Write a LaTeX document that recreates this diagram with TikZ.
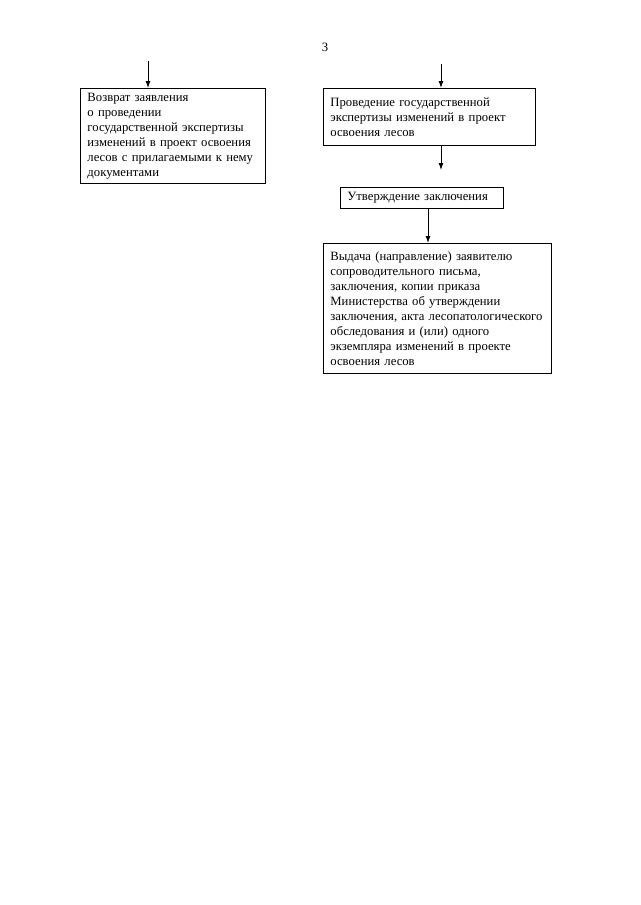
\documentclass[tikz,border=0pt]{standalone}
\usepackage{fontspec}
\setmainfont{Liberation Serif}
\usetikzlibrary{arrows.meta,positioning}

\begin{document}
\begin{tikzpicture}[
  x=1pt,y=-1pt,
  font=\fontsize{12.7}{15}\selectfont,
  box/.style={rectangle,draw,line width=0.9pt,align=left,anchor=north west,inner xsep=7pt,inner ysep=3pt},
  >={Latex[length=7pt,width=5pt]}
]
\useasboundingbox (0,0) rectangle (640,905);
\node (pagenum) at (325,47) {3};
% left branch
\node[box,text width=171pt,minimum height=95pt] (ret) at (80,88)
  {Возврат заявления\\о проведении\\государственной экспертизы\\изменений в проект освоения\\лесов с прилагаемыми к нему\\документами};
\coordinate (retin) at (148,61);
% right branch
\node[box,text width=198pt,minimum height=57pt] (exp) at (323,88)
  {Проведение государственной\\экспертизы изменений в проект\\освоения лесов};
\coordinate (expin) at (441,64);
\node[box,text width=149pt,minimum height=21pt,inner ysep=2pt] (appr) at (340,187)
  {Утверждение заключения};
\coordinate (apprin) at (441,170);
\node[box,text width=214pt,minimum height=130pt] (issue) at (323,243)
  {Выдача (направление) заявителю\\сопроводительного письма,\\заключения, копии приказа\\Министерства об утверждении\\заключения, акта лесопатологического\\обследования и (или) одного\\экземпляра изменений в проекте\\освоения лесов};
\coordinate (issuein) at (428,243);
\draw[->,line width=0.9pt] (retin)--(retin|-ret.north);
\draw[->,line width=0.9pt] (expin)--(expin|-exp.north);
\draw[->,line width=0.9pt] (apprin|-exp.south)--(apprin);
\draw[->,line width=0.9pt] (issuein|-appr.south)--(issuein);
\end{tikzpicture}
\end{document}
